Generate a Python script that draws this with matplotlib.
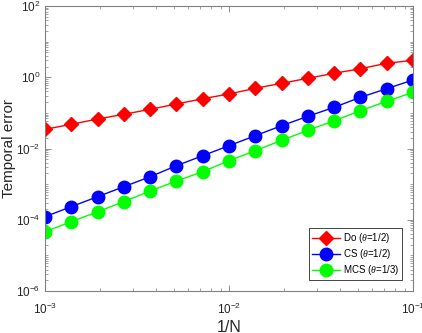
import numpy as np
import matplotlib
matplotlib.use("Agg")
import matplotlib.pyplot as plt
from matplotlib.ticker import LogLocator, NullFormatter

plt.rcParams['font.family'] = ['Liberation Sans', 'DejaVu Sans']
plt.rcParams['mathtext.fontset'] = 'custom'
plt.rcParams['mathtext.rm'] = 'Liberation Sans'
plt.rcParams['mathtext.it'] = 'Liberation Serif:italic'

# step sizes 1/N
h = np.logspace(-3, -1, 15)

# log10 of temporal errors
log_do = [-1.462, -1.321, -1.172, -1.040, -0.900, -0.751, -0.602, -0.470,
          -0.310, -0.170, -0.029, 0.111, 0.240, 0.392, 0.476]
log_cs = [-3.914, -3.633, -3.353, -3.072, -2.792, -2.483, -2.202, -1.921,
          -1.641, -1.360, -1.096, -0.844, -0.563, -0.321, -0.077]
log_mcs = [-4.335, -4.055, -3.774, -3.493, -3.193, -2.912, -2.651, -2.342,
           -2.062, -1.770, -1.489, -1.220, -0.939, -0.675, -0.422]

err_do = 10.0 ** np.array(log_do)
err_cs = 10.0 ** np.array(log_cs)
err_mcs = 10.0 ** np.array(log_mcs)

fig = plt.figure(figsize=(4.22, 3.33), dpi=100)
ax = fig.add_axes([45/422, 42/333, 368/422, 285/333])

ax.loglog(h, err_do, '-D', color='red', mfc='red', mec='red', ms=7, lw=1,
          label=r'Do ($\theta$=1/2)')
ax.loglog(h, err_cs, '-o', color='blue', mfc='blue', mec='blue', ms=9, lw=1,
          label=r'CS ($\theta$=1/2)')
ax.loglog(h, err_mcs, '-o', color='#00ff00', mfc='#00ff00', mec='#00ff00', ms=9, lw=1,
          label=r'MCS ($\theta$=1/3)')

ax.set_xlim(1e-3, 1e-1)
ax.set_ylim(1e-6, 1e2)
ax.set_yticks([1e-6, 1e-4, 1e-2, 1e0, 1e2])
ax.yaxis.set_minor_locator(LogLocator(base=10, subs=np.arange(1, 10), numticks=50))
ax.yaxis.set_minor_formatter(NullFormatter())

grey = '#262626'
for s in ax.spines.values():
    s.set_color('#808080')
    s.set_linewidth(0.8)
ax.tick_params(which='both', direction='in', top=True, right=True,
               color='#808080', labelsize=8.5, labelcolor=grey)
ax.tick_params(which='major', length=4, width=0.6)
ax.tick_params(which='minor', length=2, width=0.5)
ax.tick_params(axis='x', pad=8)

ax.set_xlabel('1/N', fontsize=11.5, color=grey)
ax.set_ylabel('Temporal error', fontsize=11, color=grey)
ax.xaxis.set_label_coords(0.5, -0.1)
ax.yaxis.set_label_coords(-0.08, 0.5)

leg = ax.legend(loc='lower right', fontsize=7, handlelength=2.9,
                fancybox=False, edgecolor='#262626', framealpha=1,
                borderpad=0.3, labelspacing=0.2, handletextpad=0.3,
                borderaxespad=0, bbox_to_anchor=(0.970, 0.0386))
leg.get_frame().set_linewidth(0.6)

fig.savefig('out.png', dpi=100)
